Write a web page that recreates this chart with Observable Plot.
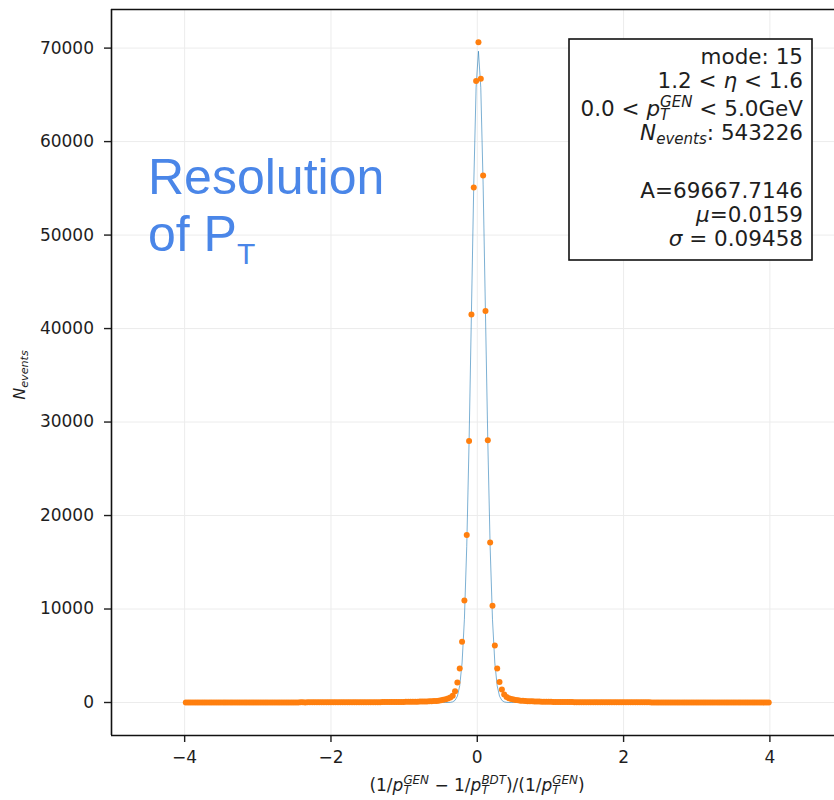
<!DOCTYPE html>
<html><head><meta charset="utf-8">
<script src="https://cdn.jsdelivr.net/npm/d3@7"></script>
<script src="https://cdn.jsdelivr.net/npm/@observablehq/plot@0.6"></script>
<style>
body{margin:0;background:#fff}
#chart{width:834px;height:800px;overflow:hidden}
</style>
</head><body><div id="chart"></div>
<script>
// Histogram: 250 bins over [-4, 4]
const histRange = [-4, 4];
const counts = [
  6,5,7,6,5,7,6,6,7,6,
  7,6,7,8,6,7,8,7,7,8,
  8,7,8,9,8,8,9,8,9,9,
  9,10,9,10,10,9,11,10,11,10,
  11,12,11,12,12,13,12,13,13,14,
  14,13,15,14,15,16,15,16,17,16,
  17,18,18,19,19,20,21,21,22,23,
  24,24,25,27,27,29,30,31,33,35,
  36,37,39,40,42,44,46,48,51,54,
  58,60,63,66,69,72,76,80,84,89,
  94,100,107,115,124,135,148,165,190,230,
  290,350,440,540,720,1210,2140,3640,6500,10920,
  17910,27970,41500,55090,66470,70640,66710,56370,41880,28040,
  17125,10350,6100,3640,2200,1380,850,600,460,370,
  310,265,230,200,178,160,145,132,121,111,
  102,95,88,82,77,72,68,64,60,57,
  54,51,48,46,44,42,40,38,36,35,
  33,32,31,30,29,28,27,26,25,24,
  23,23,22,21,21,20,19,19,18,18,
  17,17,16,16,15,15,15,14,14,13,
  13,13,12,12,12,11,11,11,10,10,
  10,10,9,9,9,9,8,8,8,8,
  8,7,7,7,7,7,6,6,6,6,
  6,6,6,5,5,5,5,5,5,5,
  5,4,5,4,4,5,4,4,4,4
];

// Fitted curve
const fitX = [-3.984,-0.496,-0.464,-0.432,-0.400,-0.368,-0.336,-0.304,-0.272,-0.240,-0.208,-0.176,-0.144,-0.112,-0.080,-0.048,-0.016,
  0.016,0.048,0.080,0.112,0.144,0.176,0.208,0.240,0.272,0.304,0.336,0.368,0.400,0.432,0.464,0.496,3.984];
const fitY = [0,0,0,1,4,18,69,228,678,1793,4228,8897,16690,27920,41660,55460,65815,
  69668,65770,55370,41580,27840,16630,8856,4207,1782,674,226,68,18,4,1,0,0];

const xTicks = [-4, -2, 0, 2, 4];
const yTicks = [0, 10000, 20000, 30000, 40000, 50000, 60000, 70000];
const xDomain = [-5, 4.883];
const yDomain = [-3530, 74130];

const legendLines = [
  [{t:"mode: 15"}],
  [{t:"1.2 < "},{t:"η",i:1},{t:" < 1.6"}],
  [{t:"0.0 < "},{t:"p",i:1},{t:"T",i:1,sub:1},{t:"GEN",i:1,sup:1,stack:1},{t:" < 5.0GeV"}],
  [{t:"N",i:1},{t:"events",i:1,sub:1},{t:": 543226"}],
  [{t:"A=69667.7146"}],
  [{t:"μ",i:1},{t:"=0.0159"}],
  [{t:"σ",i:1},{t:" = 0.09458"}]
];
const xTitle = [{t:"(1/"},{t:"p",i:1},{t:"T",i:1,sub:1},{t:"GEN",i:1,sup:1,stack:1},{t:" − 1/"},
  {t:"p",i:1},{t:"T",i:1,sub:1},{t:"BDT",i:1,sup:1,stack:1},{t:")/(1/"},{t:"p",i:1},{t:"T",i:1,sub:1},{t:"GEN",i:1,sup:1,stack:1},{t:")"}];
const yTitle = [{t:"N",i:1},{t:"events",i:1,sub:1}];
const noteLine1 = [{t:"Resolution"}];
const noteLine2 = [{t:"of P"},{t:"T",sub:1}];

const binW = (histRange[1] - histRange[0]) / counts.length;
const hist = counts.map((c, i) => ({x: histRange[0] + binW * (i + 0.5), n: c}));
const fit = fitX.map((x, i) => ({x, y: fitY[i]}));
const fmt = d3.format("d");

const plot = Plot.plot({
  width: 834, height: 800,
  marginLeft: 111, marginRight: 0, marginTop: 9, marginBottom: 65,
  x: {domain: xDomain},
  y: {domain: yDomain},
  style: {fontFamily: "DejaVu Sans", fontSize: "17px", color: "#1e1e1e", background: "#fff"},
  marks: [
    Plot.gridX(xTicks, {stroke: "#ececec", strokeOpacity: 1}),
    Plot.gridY(yTicks, {stroke: "#ececec", strokeOpacity: 1}),
    Plot.axisX(xTicks, {tickSize: 7, tickPadding: 8, tickFormat: fmt, label: null, fontSize: 17, strokeWidth: 1.4}),
    Plot.axisY(yTicks, {tickSize: 7, tickPadding: 10.5, tickFormat: fmt, label: null, fontSize: 17, strokeWidth: 1.4}),
    Plot.line(fit, {x: "x", y: "y", stroke: "#1f77b4", strokeWidth: 0.9, strokeOpacity: 0.65}),
    Plot.dot(hist, {x: "x", y: "n", r: 3, fill: "#ff7f0e", stroke: null}),
    Plot.ruleX([xDomain[0]], {stroke: "#111", strokeWidth: 1.6}),
    Plot.ruleY([yDomain[0], yDomain[1]], {stroke: "#111", strokeWidth: 1.6})
  ]
});
document.getElementById("chart").appendChild(plot);
const svg = d3.select(plot);

function richText(parent, x, y, segs, o) {
  const t = parent.append("text").attr("x", x).attr("y", y)
    .attr("text-anchor", o.anchor || "start")
    .attr("font-family", o.font || "DejaVu Sans")
    .attr("font-size", o.size).attr("fill", o.fill || "#1e1e1e")
    .style("white-space", "pre");
  if (o.transform) t.attr("transform", o.transform);
  let cur = 0, prevSub = null;
  segs.forEach(s => {
    const size = (s.sub || s.sup) ? o.size * (o.scriptScale || 0.7) : o.size;
    const shift = s.sub ? o.size * (o.subShift || 0.2) : s.sup ? -o.size * 0.42 : 0;
    const ts = t.append("tspan").text(s.t).attr("font-size", size).attr("dy", shift - cur);
    cur = shift;
    if (s.i) ts.attr("font-style", "italic");
    if (s.stack && prevSub) ts.attr("dx", -prevSub.node().getComputedTextLength());
    prevSub = s.sub ? ts : null;
  });
  return t;
}

// Legend box
const lg = svg.append("g");
lg.append("rect").attr("x", 569).attr("y", 39).attr("width", 243).attr("height", 221)
  .attr("fill", "#fff").attr("stroke", "#111").attr("stroke-width", 1.6);
const baselines = [63.5, 88, 116, 140, 198, 222, 246];
legendLines.forEach((segs, i) => richText(lg, 803, baselines[i], segs, {size: 21.5, anchor: "end"}));

// Axis titles
richText(svg, 477, 791, xTitle, {size: 17, anchor: "middle"});
richText(svg, 0, 0, yTitle, {size: 16, anchor: "middle", transform: "translate(25,375) rotate(-90)"});

// Overlay note
const blue = "#4a86e8";
richText(svg, 148, 194, noteLine1, {size: 50, font: "Liberation Sans, Arial", fill: blue});
richText(svg, 148, 251, noteLine2, {size: 50, font: "Liberation Sans, Arial", fill: blue, scriptScale: 0.6, subShift: 0.26});
</script>
</body></html>
